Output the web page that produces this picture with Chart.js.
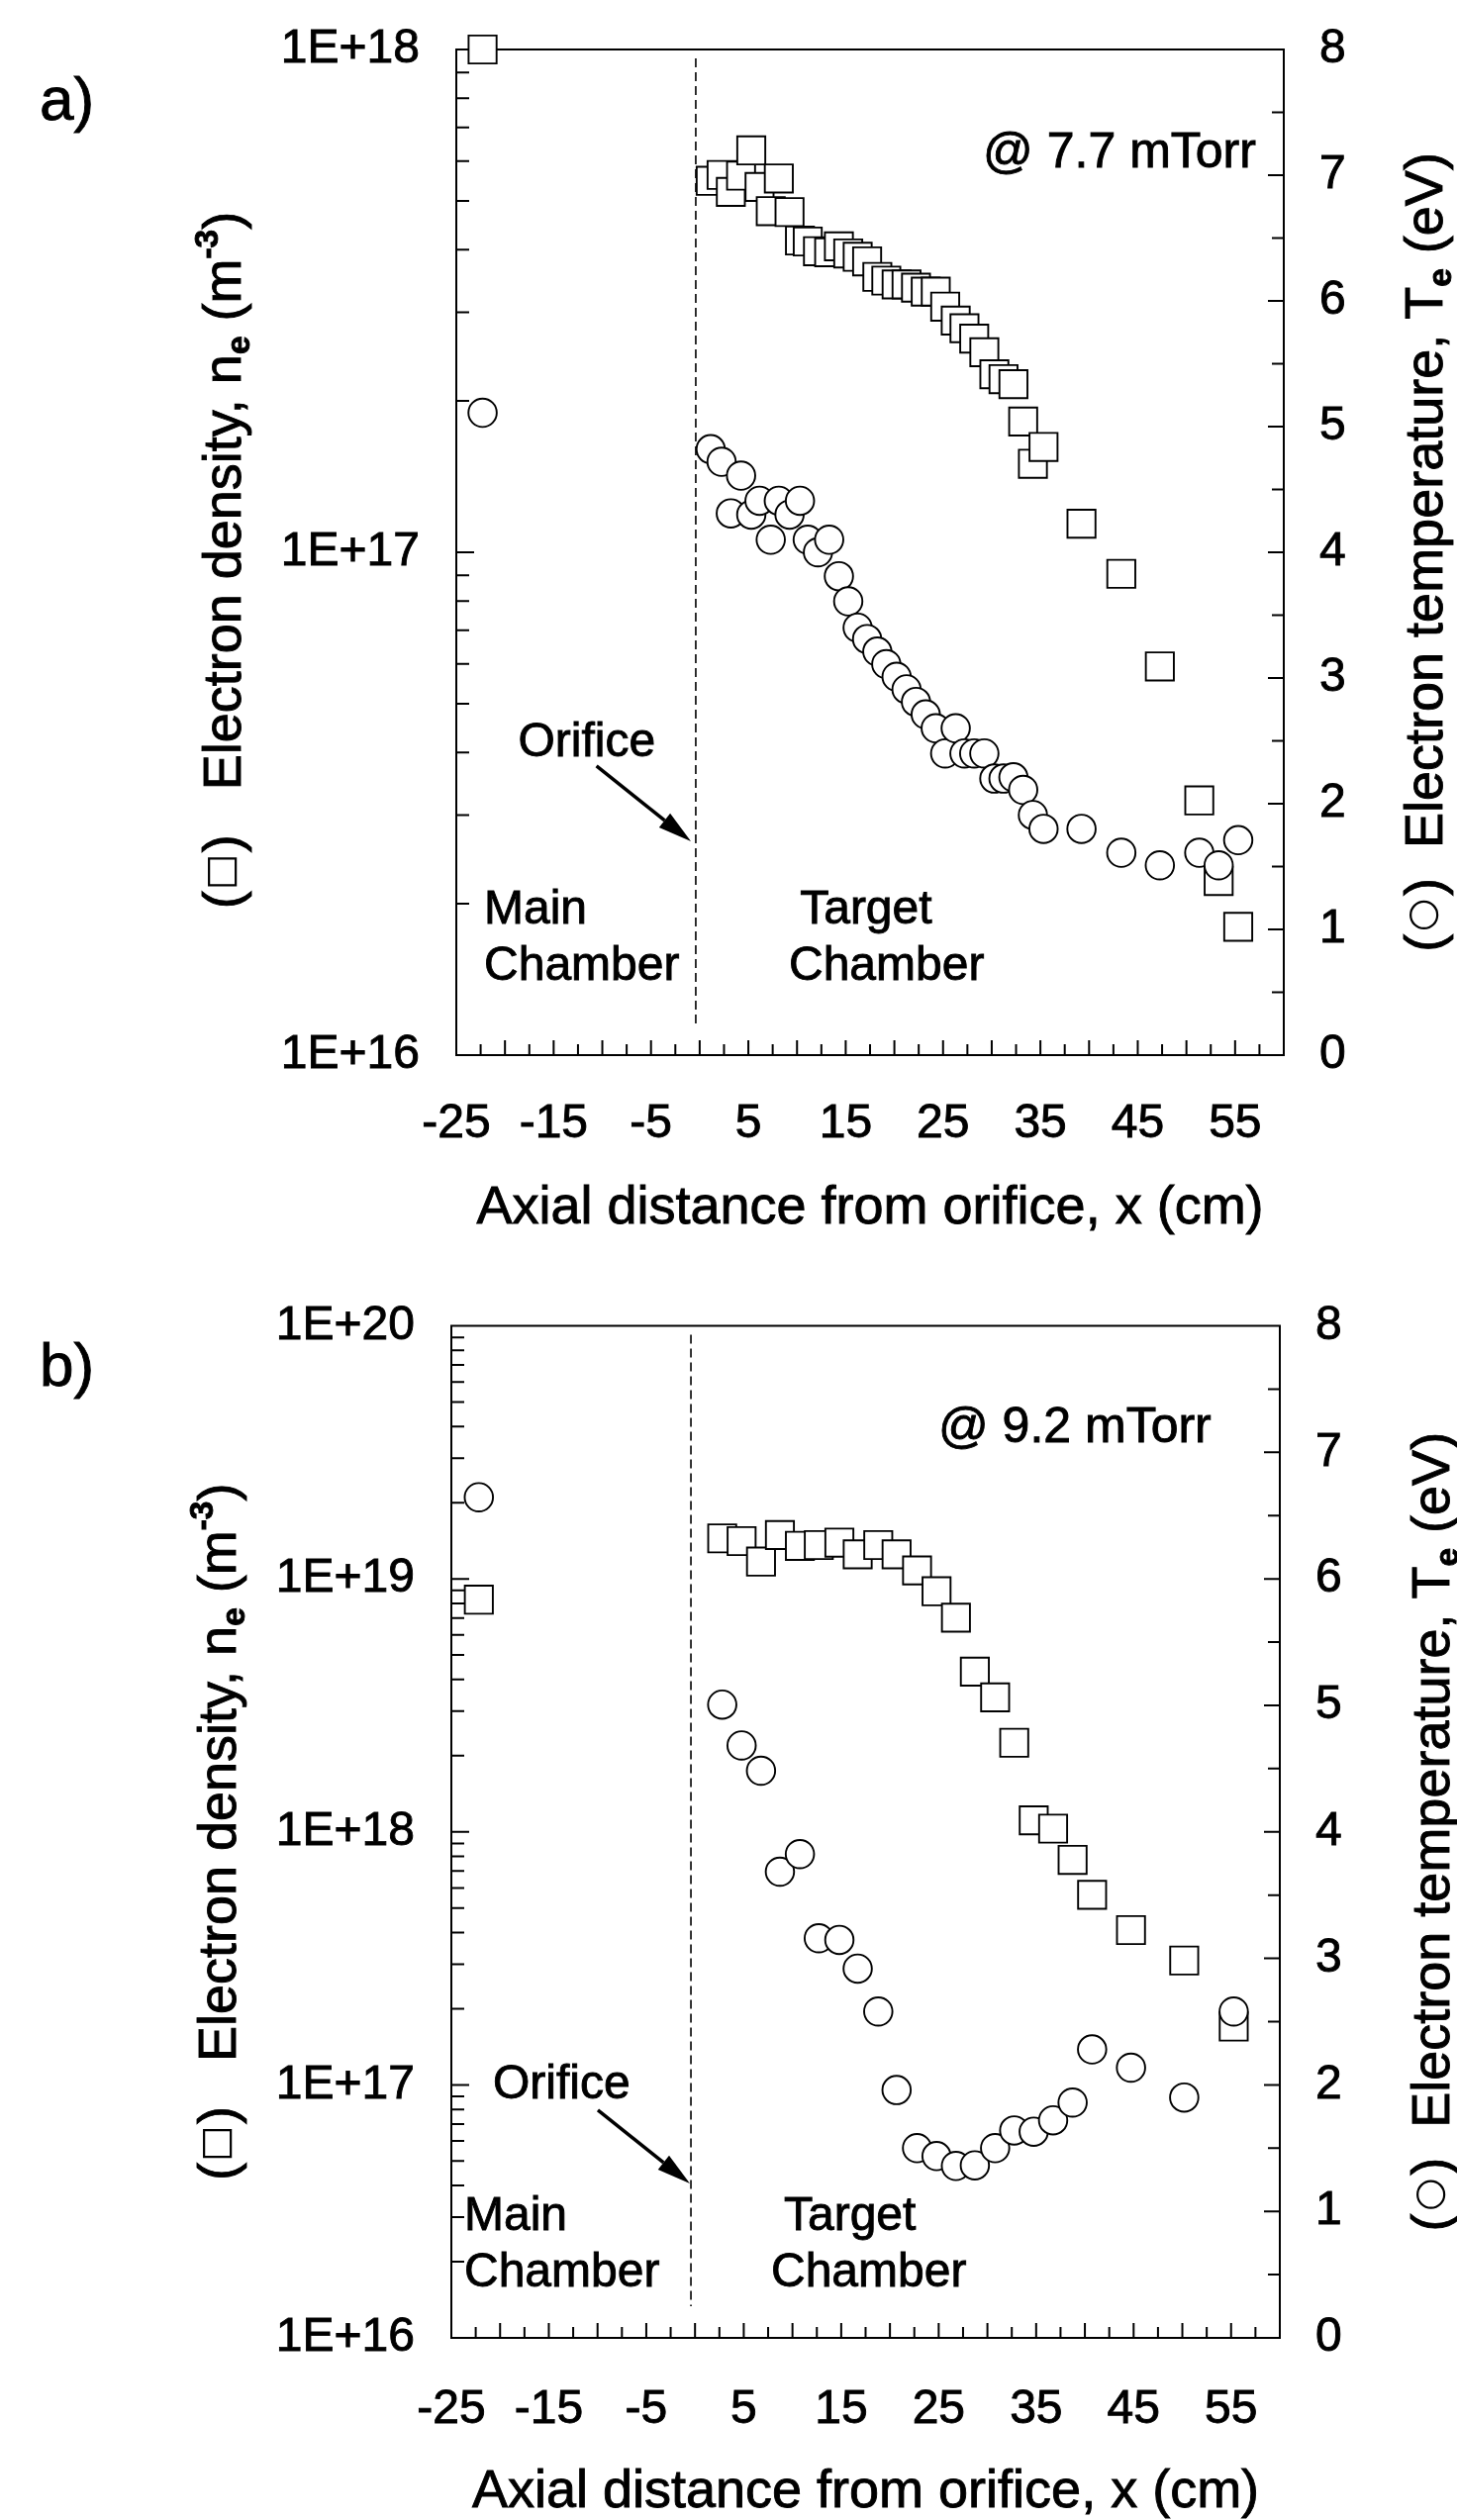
<!DOCTYPE html>
<html lang="en">
<head>
  <meta charset="UTF-8">
  <title>Electron density and temperature along the axis</title>
  <script src="https://cdn.jsdelivr.net/npm/chart.js"></script>
  <style>
    html, body { margin: 0; padding: 0; background: #fff; }
    canvas { display: block; }
  </style>
</head>
<body>

  <!-- one canvas per panel -->
  <canvas id="chartA" width="1472" height="1273"></canvas>
  <canvas id="chartB" width="1472" height="1273"></canvas>

  <script>
    // ---- values ----
    const xTickLabels = [-25, -15, -5, 5, 15, 25, 35, 45, 55];
    const tempTicks = [0, 1, 2, 3, 4, 5, 6, 7, 8];
    const densityTicksA = [1e16, 1e17, 1e18];
    const densityTicksB = [1e16, 1e17, 1e18, 1e19, 1e20];

    // a) @ 7.7 mTorr
    const aX = [-22.3, 1.13, 2.25, 3.2, 4.25, 5.3, 6.15, 7.3, 8.13, 9.23, 10.3, 11.1, 12.15, 13.3,
      14.3, 15.26, 16.23, 17.2, 18.25, 19.17, 20.23, 21.25, 22.22, 23.22, 24.25, 25.22, 26.3, 27.2,
      28.2, 29.24, 30.27, 31.21, 32.23, 33.23, 34.23, 35.32, 39.22, 43.31, 47.27, 51.32, 53.31, 55.32];
    const aDensity = [1.0e18, 5.48e17, 5.63e17, 5.21e17, 5.61e17, 6.3e17, 5.33e17, 4.77e17, 5.54e17,
      4.75e17, 4.17e17, 4.15e17, 3.97e17, 3.95e17, 4.06e17, 3.93e17, 3.87e17, 3.79e17, 3.53e17,
      3.47e17, 3.41e17, 3.41e17, 3.36e17, 3.30e17, 3.30e17, 3.08e17, 2.89e17, 2.79e17, 2.66e17,
      2.50e17, 2.26e17, 2.21e17, 2.16e17, 1.82e17, 1.50e17, 1.62e17, 1.14e17, 9.06e16, 5.93e16,
      3.21e16, 2.22e16, 1.80e16];
    const aTemp = [5.11, 4.82, 4.72, 4.31, 4.61, 4.30, 4.41, 4.10, 4.41, 4.30, 4.41, 4.10, 4.00, 4.10,
      3.81, 3.61, 3.40, 3.31, 3.21, 3.11, 3.01, 2.91, 2.81, 2.71, 2.60, 2.40, 2.60, 2.40,
      2.40, 2.40, 2.20, 2.20, 2.21, 2.11, 1.91, 1.80, 1.80, 1.61, 1.51, 1.61, 1.51, 1.71];

    // b) @ 9.2 mTorr
    const bX = [-22.18, 2.79, 4.78, 6.77, 8.71, 10.76, 12.7, 14.81, 16.69, 18.8, 20.68, 22.78,
      24.78, 26.77, 28.71, 30.79, 32.75, 34.75, 36.74, 38.74, 40.74, 44.73, 50.19, 55.27];
    const bDensity = [8.27e18, 1.445e19, 1.41e19, 1.17e19, 1.49e19, 1.35e19, 1.36e19, 1.39e19,
      1.25e19, 1.36e19, 1.25e19, 1.08e19, 8.93e18, 7.02e18, 4.3e18, 3.4e18, 2.25e18, 1.11e18,
      1.03e18, 7.75e17, 5.64e17, 4.09e17, 3.1e17, 1.7e17];
    const bTemp = [6.645, 5.006, 4.683, 4.483, 3.685, 3.824, 3.159, 3.146, 2.919, 2.58, 1.959, 1.50,
      1.437, 1.359, 1.364, 1.50, 1.64, 1.63, 1.72, 1.86, 2.28, 2.136, 1.90, 2.58];

    const FONT = "'Liberation Sans', Arial, Helvetica, sans-serif";
    const INK = '#000';
    const TEXT_STROKE = 0.9;   // the scanned figure has slightly heavy lettering

    function fontStr(size, bold) {
      return (bold ? 'bold ' : '') + size + 'px ' + FONT;
    }

    function heavyText(ctx, t, x, y) {
      ctx.fillText(t, x, y);
      ctx.lineWidth = TEXT_STROKE;
      ctx.strokeText(t, x, y);
    }

    // text with sub/superscripts and marker symbols, centred on (bx, by) along its baseline
    function richText(ctx, parts, size, bx, by, angle) {
      const seg = parts.map(p => {
        if (typeof p === 'string') p = { t: p };
        const small = p.sub || p.sup;
        const font = fontStr(small ? size * 0.62 : size, small);
        let w;
        if (p.sym) {
          w = size * 0.72;
        } else {
          ctx.font = font;
          w = ctx.measureText(p.t).width;
        }
        const dy = p.sub ? size * 0.16 : (p.sup ? -size * 0.42 : 0);
        return Object.assign({}, p, { font, w, dy });
      });
      const total = seg.reduce((s, p) => s + p.w, 0);
      ctx.save();
      ctx.translate(bx, by);
      ctx.rotate(angle);
      ctx.fillStyle = INK;
      ctx.strokeStyle = INK;
      ctx.textAlign = 'left';
      ctx.textBaseline = 'alphabetic';
      let pos = -total / 2;
      seg.forEach(p => {
        if (p.sym) {
          const cx = pos + p.w / 2, cy = -size * 0.34, r = size * 0.25;
          ctx.lineWidth = 2.2;
          ctx.beginPath();
          if (p.sym === 'square') ctx.rect(cx - r, cy - r, 2 * r, 2 * r);
          else ctx.arc(cx, cy, r, 0, Math.PI * 2);
          ctx.stroke();
        } else {
          ctx.font = p.font;
          heavyText(ctx, p.t, pos, p.dy);
        }
        pos += p.w;
      });
      ctx.restore();
    }

    function drawArrow(ctx, x1, y1, x2, y2) {
      const ang = Math.atan2(y2 - y1, x2 - x1);
      const head = 34, hw = 9;
      const bx = x2 - head * Math.cos(ang), by = y2 - head * Math.sin(ang);
      ctx.lineWidth = 3.5;
      ctx.beginPath();
      ctx.moveTo(x1, y1);
      ctx.lineTo(bx, by);
      ctx.stroke();
      ctx.beginPath();
      ctx.moveTo(x2, y2);
      ctx.lineTo(bx + hw * Math.sin(ang), by - hw * Math.cos(ang));
      ctx.lineTo(bx - hw * Math.sin(ang), by + hw * Math.cos(ang));
      ctx.closePath();
      ctx.fill();
    }

    // frame, inward ticks, orifice line, notes and axis titles
    const framePlugin = {
      id: 'frame',
      beforeDatasetsDraw(chart, args, o) {
        const { ctx, chartArea: a } = chart;
        const { x, yL, yR } = chart.scales;
        ctx.save();
        ctx.strokeStyle = INK;
        ctx.lineWidth = 2;
        ctx.strokeRect(a.left, a.top, a.right - a.left, a.bottom - a.top);

        ctx.beginPath();
        for (let v = x.min + 2.5; v < x.max; v += 2.5) {
          const px = x.getPixelForValue(v);
          const len = (v % 5 === 0) ? 15 : 11;
          ctx.moveTo(px, a.bottom);
          ctx.lineTo(px, a.bottom - len);
        }
        const d0 = Math.round(Math.log10(yL.min)), d1 = Math.round(Math.log10(yL.max));
        for (let d = d0; d < d1; d++) {
          for (let m = 1; m <= 9; m++) {
            if (d === d0 && m === 1) continue;
            const py = yL.getPixelForValue(m * Math.pow(10, d));
            const len = m === 1 ? 18 : 13;
            ctx.moveTo(a.left, py);
            ctx.lineTo(a.left + len, py);
          }
        }
        for (let v = 0.5; v < yR.max; v += 0.5) {
          const py = yR.getPixelForValue(v);
          const len = Number.isInteger(v) ? 16 : 12;
          ctx.moveTo(a.right, py);
          ctx.lineTo(a.right - len, py);
        }
        ctx.stroke();

        // orifice position
        const dx = x.getPixelForValue(o.orificeX);
        ctx.setLineDash([9, 5]);
        ctx.lineWidth = 1.6;
        ctx.beginPath();
        ctx.moveTo(dx, yR.getPixelForValue(o.dashTop));
        ctx.lineTo(dx, yR.getPixelForValue(o.dashBottom));
        ctx.stroke();
        ctx.restore();
      },
      afterDraw(chart, args, o) {
        const { ctx, chartArea: a } = chart;
        const { x, yR } = chart.scales;
        ctx.save();
        ctx.fillStyle = INK;
        ctx.strokeStyle = INK;

        ctx.textBaseline = 'alphabetic';
        o.notes.forEach(n => {
          ctx.font = fontStr(n.size || 48);
          ctx.textAlign = n.align || 'left';
          heavyText(ctx, n.t, x.getPixelForValue(n.x), yR.getPixelForValue(n.y));
        });

        drawArrow(ctx,
          x.getPixelForValue(o.arrow[0]), yR.getPixelForValue(o.arrow[1]),
          x.getPixelForValue(o.arrow[2]), yR.getPixelForValue(o.arrow[3]));

        ctx.font = fontStr(62);
        ctx.textAlign = 'left';
        heavyText(ctx, o.panel, o.panelX, o.panelY);

        ctx.font = fontStr(54);
        ctx.textAlign = 'center';
        heavyText(ctx, 'Axial distance from orifice, x (cm)', (a.left + a.right) / 2, a.bottom + o.xTitleGap);

        const midY = (a.top + a.bottom) / 2;
        richText(ctx, ['(', { sym: 'square' }, ')', '   Electron density, n', { t: 'e', sub: true },
          ' (m', { t: '-3', sup: true }, ')'], 54, a.left - o.leftTitleGap, midY + o.leftShift, -Math.PI / 2);
        richText(ctx, ['(', { sym: 'circle' }, ')', '  Electron temperature, T', { t: 'e', sub: true },
          ' (eV)'], 54, a.right + o.rightTitleGap, midY + o.rightShift, -Math.PI / 2);
        ctx.restore();
      }
    };

    // fixed axis sizes, and no extra label padding pushed into the layout
    function fixSize(s, w, h) {
      if (w !== undefined) s.width = w;
      if (h !== undefined) s.height = h;
      s.paddingTop = 0;
      s.paddingBottom = 0;
      s.paddingLeft = 0;
      s.paddingRight = 0;
    }

    function makeChart(id, cfg) {
      const tickFont = { family: FONT, size: 48 };
      const tickBase = { font: tickFont, color: INK, autoSkip: false, textStrokeColor: INK, textStrokeWidth: TEXT_STROKE };
      new Chart(document.getElementById(id), {
        type: 'scatter',
        data: {
          datasets: [
            {
              label: 'Te',
              data: cfg.xs.map((v, i) => ({ x: v, y: cfg.temp[i] })),
              yAxisID: 'yR',
              pointStyle: 'circle',
              pointRadius: 14.3,
              pointBorderWidth: 1.9,
              pointBorderColor: INK,
              pointBackgroundColor: '#fff',
              clip: false,
              order: 0
            },
            {
              label: 'ne',
              data: cfg.xs.map((v, i) => ({ x: v, y: cfg.density[i] })),
              yAxisID: 'yL',
              pointStyle: 'rect',
              pointRadius: 20,
              pointBorderWidth: 1.9,
              pointBorderColor: INK,
              pointBackgroundColor: '#fff',
              clip: false,
              order: 1
            }
          ]
        },
        options: {
          responsive: false,
          animation: false,
          devicePixelRatio: 1,
          events: [],
          layout: { padding: { top: cfg.padTop, left: 0, right: 0, bottom: 0 } },
          plugins: {
            legend: { display: false },
            tooltip: { enabled: false },
            frame: cfg.frame
          },
          scales: {
            x: {
              type: 'linear',
              min: -25,
              max: 60,
              grid: { display: false, drawTicks: false },
              border: { display: false },
              afterBuildTicks: s => { s.ticks = xTickLabels.map(v => ({ value: v })); },
              afterFit: s => fixSize(s, undefined, cfg.xAxisH),
              ticks: Object.assign({}, tickBase, { padding: cfg.xPad, maxRotation: 0,
                callback: v => String(v) })
            },
            yL: {
              type: 'logarithmic',
              position: 'left',
              min: cfg.densityTicks[0],
              max: cfg.densityTicks[cfg.densityTicks.length - 1],
              grid: { display: false, drawTicks: false },
              border: { display: false },
              afterBuildTicks: s => { s.ticks = cfg.densityTicks.map(v => ({ value: v })); },
              afterFit: s => fixSize(s, cfg.leftW),
              ticks: Object.assign({}, tickBase, { padding: 37,
                callback: v => Number(v).toExponential(0).toUpperCase() })
            },
            yR: {
              type: 'linear',
              position: 'right',
              min: 0,
              max: 8,
              grid: { display: false, drawTicks: false },
              border: { display: false },
              afterBuildTicks: s => { s.ticks = tempTicks.map(v => ({ value: v })); },
              afterFit: s => fixSize(s, cfg.rightW),
              ticks: Object.assign({}, tickBase, { padding: 36,
                callback: v => String(v) })
            }
          }
        },
        plugins: [framePlugin]
      });
    }

    makeChart('chartA', {
      xs: aX, density: aDensity, temp: aTemp, densityTicks: densityTicksA,
      padTop: 50, leftW: 461, rightW: 175, xAxisH: 207, xPad: 41,
      frame: {
        orificeX: -0.4, dashTop: 7.93, dashBottom: 0.25,
        arrow: [-10.6, 2.30, -0.9, 1.70],
        notes: [
          { t: 'Orifice', x: -11.6, y: 2.38, align: 'center' },
          { t: 'Main', x: -22.15, y: 1.05 },
          { t: 'Chamber', x: -22.15, y: 0.60 },
          { t: 'Target', x: 10.3, y: 1.05 },
          { t: 'Chamber', x: 9.16, y: 0.60 },
          { t: '@ 7.7 mTorr', x: 29.1, y: 7.06, size: 50 }
        ],
        panel: 'a)', panelX: 40, panelY: 121,
        xTitleGap: 170, leftTitleGap: 218, leftShift: 8, rightTitleGap: 160, rightShift: 0
      }
    });

    makeChart('chartB', {
      xs: bX, density: bDensity, temp: bTemp, densityTicks: densityTicksB,
      padTop: 66.5, leftW: 456, rightW: 179, xAxisH: 184, xPad: 44,
      frame: {
        orificeX: -0.42, dashTop: 7.93, dashBottom: 0.25,
        arrow: [-9.97, 1.80, -0.53, 1.22],
        notes: [
          { t: 'Orifice', x: -13.7, y: 1.89, align: 'center' },
          { t: 'Main', x: -23.68, y: 0.85 },
          { t: 'Chamber', x: -23.68, y: 0.41 },
          { t: 'Target', x: 9.12, y: 0.85 },
          { t: 'Chamber', x: 7.8, y: 0.41 },
          { t: '@ 9.2 mTorr', x: 24.96, y: 7.08, size: 50 }
        ],
        panel: 'b)', panelX: 40, panelY: 127,
        xTitleGap: 171, leftTitleGap: 218, leftShift: 0, rightTitleGap: 171, rightShift: 0
      }
    });
  </script>

</body>
</html>
